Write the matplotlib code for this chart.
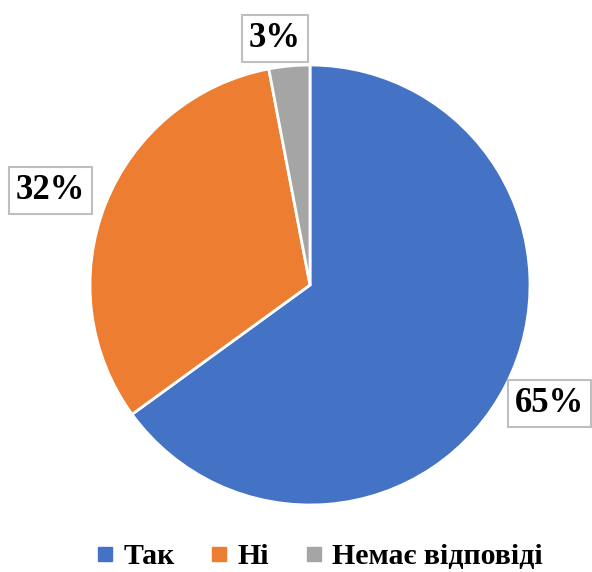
import matplotlib
matplotlib.use("Agg")
import matplotlib.pyplot as plt
from matplotlib.lines import Line2D

labels = ["Так", "Ні", "Немає відповіді"]
values = [65, 32, 3]
colors = ["#4472C4", "#ED7D31", "#A5A5A5"]
label_pos = [(1.09, -0.54), (-1.18, 0.43), (-0.16, 1.12)]

plt.rcParams['font.family'] = ['Liberation Serif', 'DejaVu Serif']

fig = plt.figure(figsize=(5.92, 5.72), dpi=100)
ax = fig.add_axes([90/592, 67/572, 440/592, 440/572])
wedges, _ = ax.pie(values, colors=colors, startangle=90, counterclock=False,
                   radius=1.0, wedgeprops=dict(edgecolor='white', linewidth=2))
ax.set_xlim(-1, 1)
ax.set_ylim(-1, 1)
ax.set_aspect('equal')
ax.axis('off')

for v, (x, y) in zip(values, label_pos):
    ax.text(x, y, f"{v}%", ha='center', va='center', fontsize=25, fontweight='bold',
            bbox=dict(boxstyle='square,pad=0.2', facecolor='white', edgecolor='#BFBFBF', linewidth=1.5),
            clip_on=False)

handles = [Line2D([0], [0], marker='s', linestyle='none', markersize=10,
                  markerfacecolor=c, markeredgecolor=c) for c in colors]
fig.legend(handles, labels, loc='center', bbox_to_anchor=(0.537, 0.027), ncol=3,
           frameon=False, prop=dict(size=21.5, weight='bold'), handletextpad=0.2,
           columnspacing=1.1, handlelength=0.8)

fig.savefig("out.png", dpi=100)
